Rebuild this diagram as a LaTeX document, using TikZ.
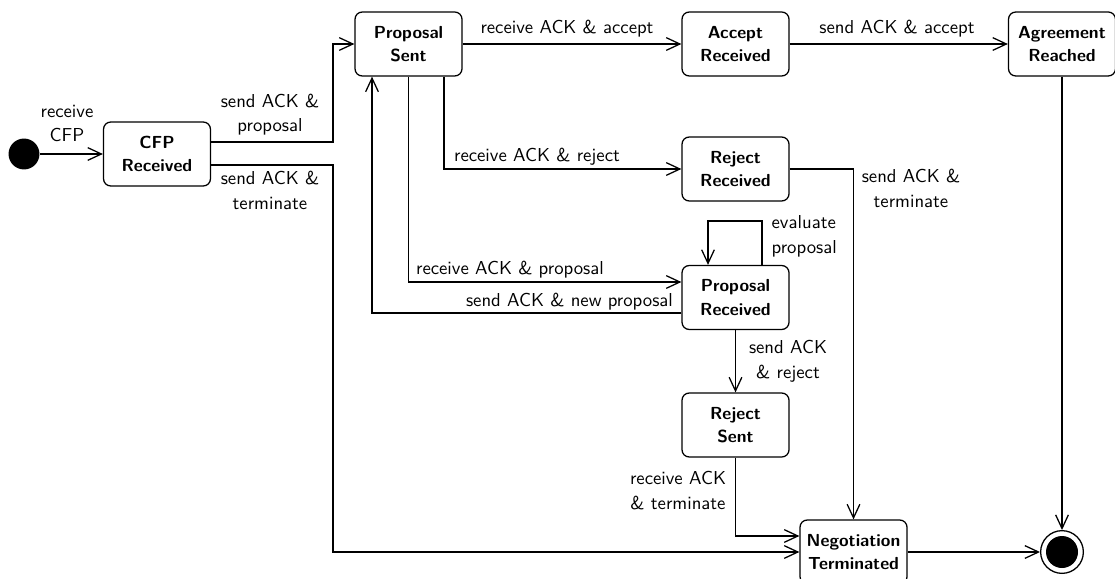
\documentclass[tikz,border=0pt]{standalone}
\usetikzlibrary{arrows.meta,calc}
\begin{document}
\begin{tikzpicture}[
  x=0.55pt, y=-0.55pt,
  line width=0.7pt,
  arr/.style={-{Straight Barb[length=7.5pt,width=7pt,line width=0.7pt]}},
  state/.style={draw, rounded corners=4pt, minimum width=58.85pt,
    minimum height=35.2pt, inner sep=1pt, align=center,
    font=\fontsize{9.6}{13}\sffamily\bfseries\selectfont},
  lbl/.style={font=\fontsize{10.3}{13.4}\sffamily\selectfont, align=center,
    inner sep=0pt, anchor=base}
]
\useasboundingbox (0,0) rectangle (1115,579);

% states
\node[circle, fill, minimum size=17pt, inner sep=0pt] (init) at (24,154) {};
\node[state] (cfp) at (157,154) {CFP\\Received};
\node[state] (ps)  at (408.5,44) {Proposal\\Sent};
\node[state] (ar)  at (735.5,44) {Accept\\Received};
\node[state] (ag)  at (1062,44) {Agreement\\Reached};
\node[state] (rr)  at (735.5,169) {Reject\\Received};
\node[state] (pr)  at (735.5,297.5) {Proposal\\Received};
\node[state] (rs)  at (735.5,425) {Reject\\Sent};
\node[state] (nt)  at (853.5,552) {Negotiation\\Terminated};
\node[circle, draw, minimum size=23.5pt, inner sep=0pt] (fin) at (1062,552) {};
\fill (fin.center) circle (8.8pt);

% transitions
\draw[arr] (init) -- (cfp);
\draw[arr] ($(cfp.east)+(0,-12)$) -| (333,44) -- (ps.west);
\draw[arr] ($(cfp.east)+(0,11)$) -| (333,552) -- (nt.west);
\draw[arr] (ps) -- (ar);
\draw[arr] (ar) -- (ag);
\draw[arr] ($(ps.south)+(35.5,0)$) |- (rr.west);
\draw[arr] (ps.south) |- ($(pr.west)+(0,-15.5)$);
\draw[arr] ($(pr.west)+(0,15.5)$) -| ($(ps.south)+(-36.5,0)$);
\draw[arr] ($(pr.north)+(26.5,0)$) -- ++(0,-44) -| ($(pr.north)+(-27.5,0)$);
\draw[arr] (pr) -- (rs);
\draw[arr] (rs.south) |- ($(nt.west)+(0,-16)$);
\draw[arr] (rr.east) -| (nt.north);
\draw[arr] (ag) -- (fin);
\draw[arr] (nt) -- (fin);

% transition labels
\node[lbl] (l1)  at (67,142)    {receive\\CFP};
\node[lbl] (l2)  at (270,132)   {send ACK \&\\proposal};
\node[lbl] (l3)  at (270,209)   {send ACK \&\\terminate};
\node[lbl] (l4)  at (567,34)    {receive ACK \& accept};
\node[lbl] (l5)  at (897,34)    {send ACK \& accept};
\node[lbl] (l6)  at (537,162)   {receive ACK \& reject};
\node[lbl, align=left, anchor=base west] (l7) at (771,253) {evaluate\\proposal};
\node[lbl] (l8)  at (510,274)   {receive ACK \& proposal};
\node[lbl] (l9)  at (569.5,306) {send ACK \& new proposal};
\node[lbl] (l10) at (788,378)   {send ACK\\\& reject};
\node[lbl] (l11) at (678,509)   {receive ACK\\\& terminate};
\node[lbl] (l12) at (911,207)   {send ACK \&\\terminate};
\end{tikzpicture}
\end{document}
